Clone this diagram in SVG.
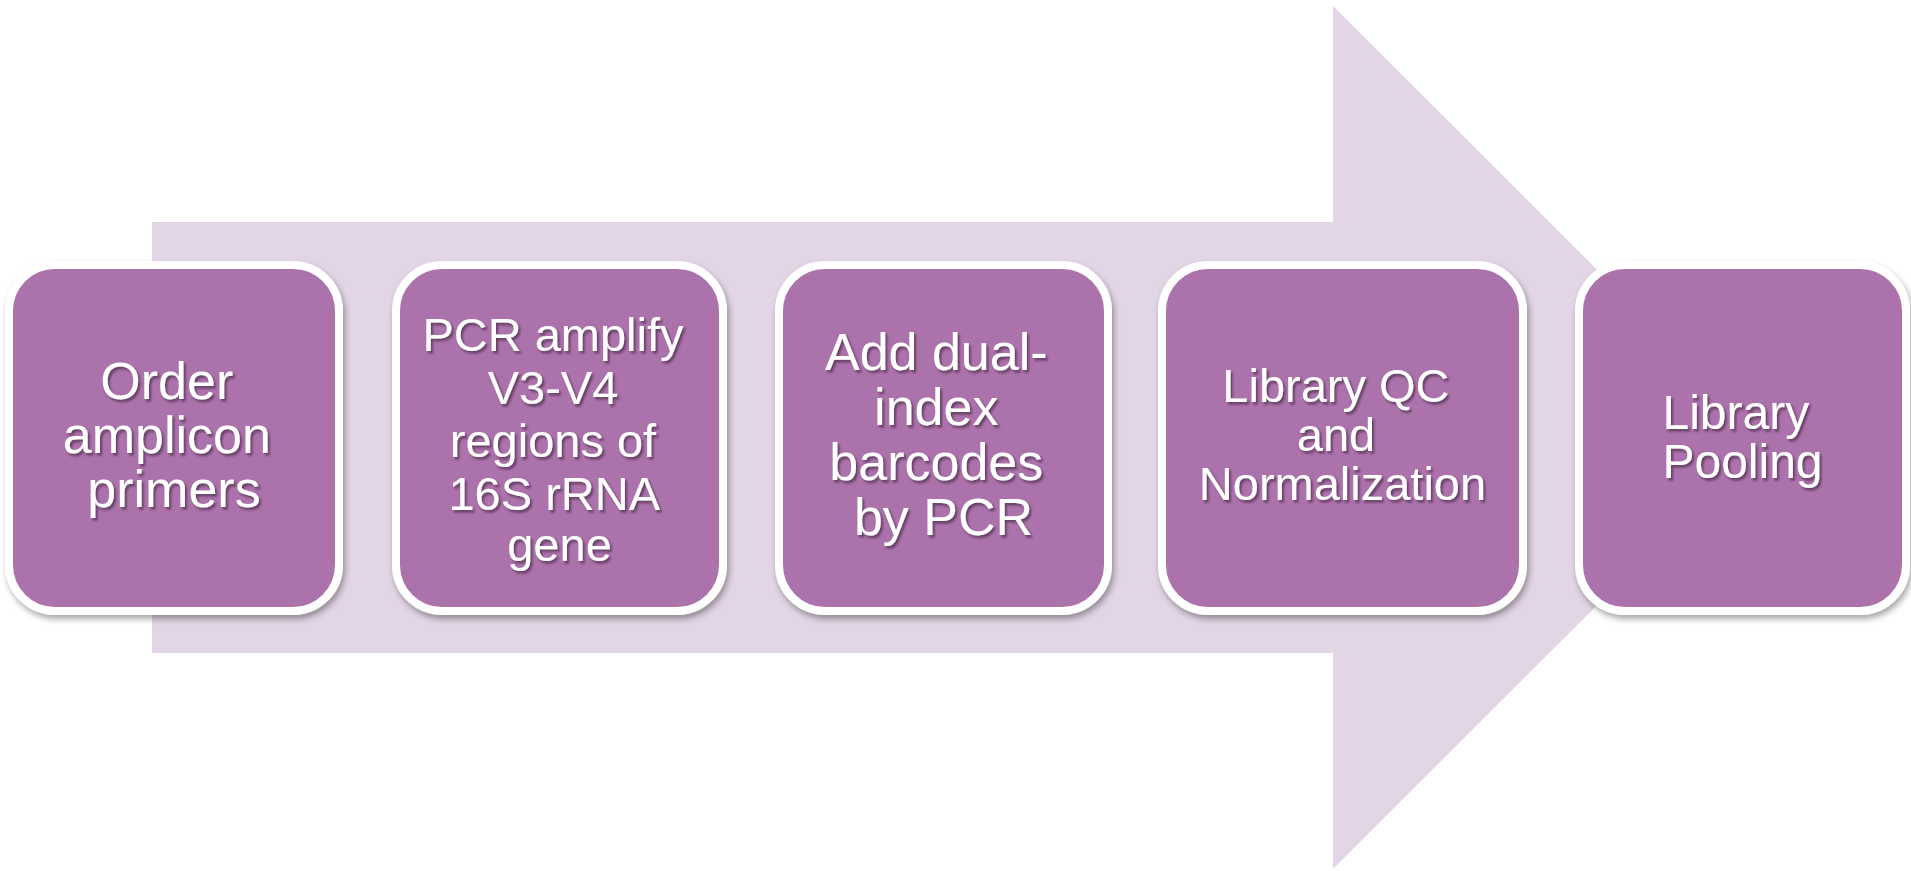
<svg xmlns="http://www.w3.org/2000/svg" width="1911" height="871" viewBox="0 0 1911 871">
  <defs>
    <filter id="boxShadow" x="-10%" y="-10%" width="120%" height="125%">
      <feDropShadow dx="2" dy="4" stdDeviation="3" flood-color="#000" flood-opacity="0.35"/>
    </filter>
    <filter id="textShadow" x="-10%" y="-20%" width="120%" height="150%">
      <feDropShadow dx="2" dy="2.5" stdDeviation="1.2" flood-color="#2a0a2a" flood-opacity="0.55"/>
    </filter>
  </defs>
  <style>
    .flow { fill: #E2D5E5; }
    .step { fill: #AC72AB; stroke: #FFFFFF; stroke-width: 8; filter: url(#boxShadow); }
    .label { font-family: "Liberation Sans", Arial, sans-serif; fill: #FFFFFF; text-anchor: middle; filter: url(#textShadow); }
  </style>

  <rect width="1911" height="871" fill="#FFFFFF"/>

  <!-- background process arrow -->
  <g id="connectors">
    <polygon class="flow" points="152,222 1333,222 1333,6 1765,437.5 1333,869 1333,653 152,653"/>
  </g>

  <g id="step1">
    <rect class="step" x="9" y="265" width="330" height="346" rx="46"/>
    <text class="label" font-size="52">
      <tspan x="174" y="399">Order</tspan>
      <tspan x="174" y="453">amplicon</tspan>
      <tspan x="174" y="507">primers</tspan>
    </text>
  </g>

  <g id="step2">
    <rect class="step" x="396" y="265" width="327" height="346" rx="46"/>
    <text class="label" font-size="47">
      <tspan x="559.5" y="351">PCR amplify</tspan>
      <tspan x="559.5" y="404">V3-V4</tspan>
      <tspan x="559.5" y="457">regions of</tspan>
      <tspan x="559.5" y="510">16S rRNA</tspan>
      <tspan x="559.5" y="561">gene</tspan>
    </text>
  </g>

  <g id="step3">
    <rect class="step" x="779" y="265" width="329" height="346" rx="46"/>
    <text class="label" font-size="52">
      <tspan x="943.5" y="370">Add dual-</tspan>
      <tspan x="943.5" y="425">index</tspan>
      <tspan x="943.5" y="480">barcodes</tspan>
      <tspan x="943.5" y="535">by PCR</tspan>
    </text>
  </g>

  <g id="step4">
    <rect class="step" x="1162" y="265" width="361" height="346" rx="46"/>
    <text class="label" font-size="47">
      <tspan x="1342.5" y="402">Library QC</tspan>
      <tspan x="1342.5" y="451">and</tspan>
      <tspan x="1342.5" y="500">Normalization</tspan>
    </text>
  </g>

  <g id="step5">
    <rect class="step" x="1579" y="265" width="327" height="346" rx="46"/>
    <text class="label" font-size="48">
      <tspan x="1742.5" y="429">Library</tspan>
      <tspan x="1742.5" y="478">Pooling</tspan>
    </text>
  </g>
</svg>
